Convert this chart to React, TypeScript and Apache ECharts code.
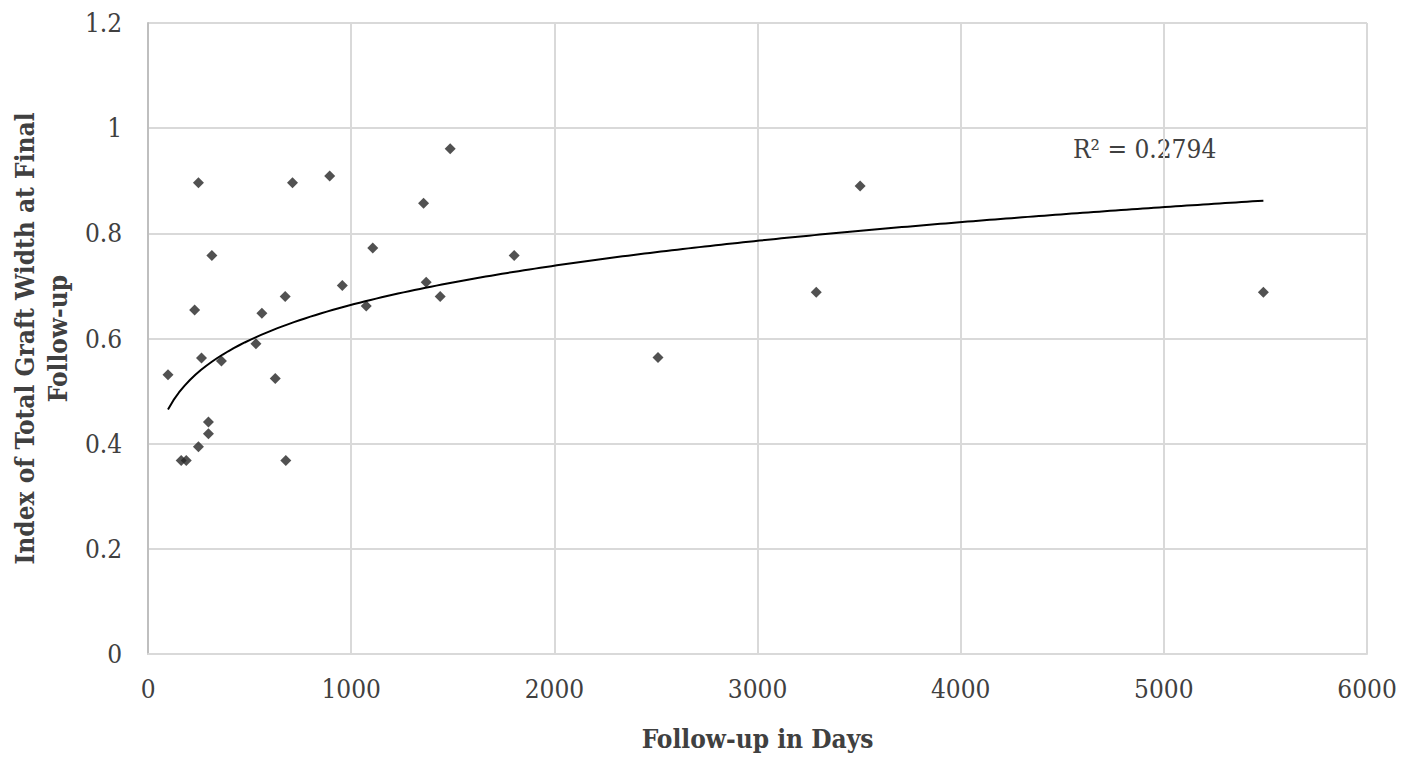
import React, { useEffect, useRef } from "react";
import * as echarts from "echarts";

// Follow-up in days (x) and index of total graft width at final follow-up (y)
const followUpDays = [
  98, 163, 188, 229, 248, 248, 263, 297, 297, 314, 361, 531, 560, 626, 675,
  678, 711, 894, 956, 1074, 1106, 1356, 1369, 1438, 1487, 1802, 2510, 3289,
  3505, 5490,
];
const graftIndex = [
  0.531, 0.368, 0.368, 0.654, 0.896, 0.394, 0.563, 0.441, 0.419, 0.758, 0.557,
  0.59, 0.648, 0.524, 0.68, 0.368, 0.896, 0.909, 0.701, 0.662, 0.772, 0.857,
  0.707, 0.68, 0.961, 0.758, 0.564, 0.688, 0.89, 0.688,
];
const xTicks = { min: 0, max: 6000, interval: 1000 };
const yTicks = { min: 0, max: 1.2, interval: 0.2 };
const r2Label = "R² = 0.2794";
const xName = "Follow-up in Days";
const yName = "Index of Total Graft Width at Final\nFollow-up";

// Power trendline (least squares on ln x, ln y), as Excel does
function powerFit(xs: number[], ys: number[]) {
  const n = xs.length;
  let sx = 0, sy = 0, sxx = 0, sxy = 0;
  for (let i = 0; i < n; i++) {
    const lx = Math.log(xs[i]);
    const ly = Math.log(ys[i]);
    sx += lx; sy += ly; sxx += lx * lx; sxy += lx * ly;
  }
  const p = (n * sxy - sx * sy) / (n * sxx - sx * sx);
  const lnc = (sy - p * sx) / n;
  return { c: Math.exp(lnc), p };
}

const FONT = "'DejaVu Serif Condensed', 'DejaVu Serif', serif";

export default function App() {
  const ref = useRef<HTMLDivElement>(null);
  useEffect(() => {
    document.body.style.margin = "0";
    if (!ref.current) return;
    const chart = echarts.init(ref.current, undefined, { renderer: "svg" });
    const points = followUpDays.map((x, i) => [x, graftIndex[i]]);
    const { c, p } = powerFit(followUpDays, graftIndex);
    const xmin = Math.min(...followUpDays);
    const xmax = Math.max(...followUpDays);
    const trend: number[][] = [];
    const steps = 200;
    for (let i = 0; i <= steps; i++) {
      const x = xmin + ((xmax - xmin) * i) / steps;
      trend.push([x, c * Math.pow(x, p)]);
    }
    chart.setOption({
      animation: false,
      backgroundColor: "#ffffff",
      grid: { left: 141, right: 50, top: 23, bottom: 113 },
      xAxis: {
        type: "value",
        ...xTicks,
        name: xName,
        nameLocation: "middle",
        nameGap: 72,
        nameTextStyle: { fontFamily: FONT, fontWeight: "bold", fontSize: 26, color: "#404040" },
        axisLine: { show: true, lineStyle: { color: "#d9d9d9", width: 2 } },
        axisTick: { show: false },
        axisLabel: {
          fontFamily: FONT,
          fontSize: 26,
          color: "#404040",
          margin: 22,
          formatter: (v: number) => String(v),
        },
        splitLine: { show: true, lineStyle: { color: "#d9d9d9", width: 2 } },
      },
      yAxis: {
        type: "value",
        ...yTicks,
        name: yName,
        nameLocation: "middle",
        nameGap: 74,
        nameTextStyle: { fontFamily: FONT, fontWeight: "bold", fontSize: 26, color: "#404040", lineHeight: 33 },
        axisLine: { show: true, lineStyle: { color: "#bfbfbf", width: 2 } },
        axisTick: { show: false },
        axisLabel: { fontFamily: FONT, fontSize: 26, color: "#404040", margin: 26 },
        splitLine: { show: true, lineStyle: { color: "#d9d9d9", width: 2 } },
      },
      series: [
        {
          type: "scatter",
          data: points,
          symbol: "diamond",
          symbolSize: 11,
          itemStyle: { color: "#262626" },
          z: 3,
        },
        {
          type: "line",
          data: trend,
          showSymbol: false,
          smooth: false,
          lineStyle: { color: "#000000", width: 2 },
          z: 4,
        },
      ],
      graphic: [
        {
          type: "text",
          left: 1073,
          top: 136,
          style: { text: r2Label, fontFamily: FONT, fontSize: 26, fill: "#404040" },
        },
      ],
    });
    return () => chart.dispose();
  }, []);
  return <div ref={ref} style={{ width: 1417, height: 767 }} />;
}
